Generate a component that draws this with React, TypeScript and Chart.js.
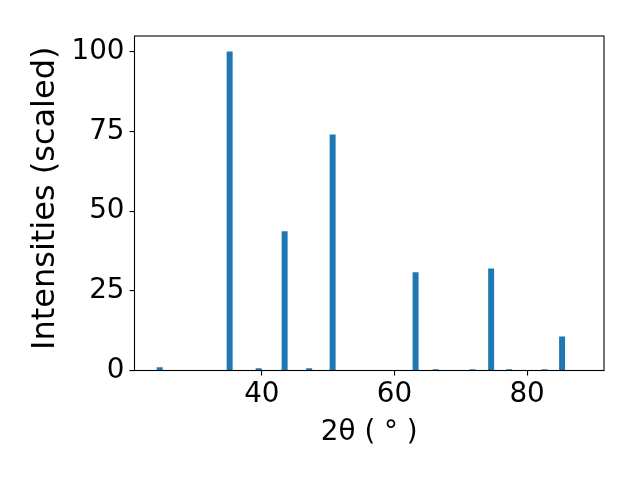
import React, { useEffect, useRef } from "react";
import { Chart, registerables } from "chart.js";

Chart.register(...registerables);

// 2θ peak positions (degrees)
const twoTheta = [24.6, 35.15, 39.52, 43.44, 47.14, 50.68, 63.19, 66.21, 71.79, 74.58, 77.29, 82.64, 85.28];
// scaled intensities
const intensities = [0.9, 100, 0.6, 43.6, 0.6, 74.0, 30.7, 0.3, 0.3, 31.9, 0.3, 0.3, 10.6];
const xTicks = [40, 60, 80];
const yTicks = [0, 25, 50, 75, 100];

const X_MIN = 20.8;
const X_MAX = 91.6;
const Y_MIN = 0;
const Y_MAX = 105;
const BAR_WIDTH_DEG = 0.8;
const Y_TITLE_SHIFT = 5;

const FONT = "'DejaVu Sans', sans-serif";

const spinePlugin = {
  id: "spines",
  beforeDraw(chart: any) {
    const s = chart.scales.y;
    if (s && !s.__wrapped) {
      const orig = s.drawTitle.bind(s);
      s.drawTitle = (...args: any[]) => {
        const ctx = chart.ctx;
        ctx.save();
        ctx.translate(0, -Y_TITLE_SHIFT);
        orig(...args);
        ctx.restore();
      };
      s.__wrapped = true;
    }
  },
  afterDatasetsDraw(chart: any) {
    const { ctx, chartArea } = chart;
    ctx.save();
    ctx.strokeStyle = "#000";
    ctx.lineWidth = 1.1;
    ctx.strokeRect(chartArea.left, chartArea.top, chartArea.right - chartArea.left, chartArea.bottom - chartArea.top);
    ctx.restore();
  },
};

export default function App() {
  const ref = useRef<HTMLCanvasElement>(null);
  useEffect(() => {
    document.body.style.margin = "0";
    const canvas = ref.current!;
    const pxPerDeg = (604 - 134.5) / (X_MAX - X_MIN);
    const chart = new Chart(canvas, {
      type: "bar",
      data: {
        datasets: [
          {
            data: twoTheta.map((x, i) => ({ x, y: intensities[i] })),
            backgroundColor: "#1f77b4",
            borderWidth: 0,
            barThickness: BAR_WIDTH_DEG * pxPerDeg,
          },
        ],
      },
      options: {
        responsive: false,
        animation: false,
        devicePixelRatio: 1,
        layout: { padding: { left: 0, right: 36, top: 36, bottom: 0 } },
        plugins: { legend: { display: false }, tooltip: { enabled: false } },
        scales: {
          x: {
            type: "linear",
            min: X_MIN,
            max: X_MAX,
            offset: false,
            afterBuildTicks: (s: any) => {
              s.ticks = xTicks.map((v) => ({ value: v }));
            },
            afterFit: (s: any) => {
              s.height = 480 - 370.5;
            },
            grid: {
              display: true,
              drawOnChartArea: false,
              drawTicks: true,
              tickLength: 5,
              color: "#000",
              lineWidth: 1.1,
              offset: false,
            },
            border: { display: false },
            ticks: {
              color: "#000",
              font: { family: FONT, size: 27.8 },
              padding: 3,
              maxRotation: 0,
            },
            title: {
              display: true,
              text: "2θ ( ° )",
              color: "#000",
              font: { family: FONT, size: 27.8 },
              padding: { top: 0, bottom: 31 },
            },
          },
          y: {
            type: "linear",
            min: Y_MIN,
            max: Y_MAX,
            afterBuildTicks: (s: any) => {
              s.ticks = yTicks.map((v) => ({ value: v }));
            },
            afterFit: (s: any) => {
              s.width = 134.5;
            },
            grid: {
              display: true,
              drawOnChartArea: false,
              drawTicks: true,
              tickLength: 5,
              color: "#000",
              lineWidth: 1.1,
            },
            border: { display: false },
            ticks: {
              color: "#000",
              font: { family: FONT, size: 27.8 },
              padding: 5,
            },
            title: {
              display: true,
              text: "Intensities (scaled)",
              color: "#000",
              font: { family: FONT, size: 32 },
              padding: { top: 26, bottom: 0 },
            },
          },
        },
      },
      plugins: [spinePlugin],
    });
    return () => chart.destroy();
  }, []);
  return (
    <div style={{ position: "absolute", left: 0, top: 0, width: 640, height: 480, background: "#fff" }}>
      <canvas ref={ref} width={640} height={480} style={{ width: 640, height: 480, display: "block" }} />
    </div>
  );
}
